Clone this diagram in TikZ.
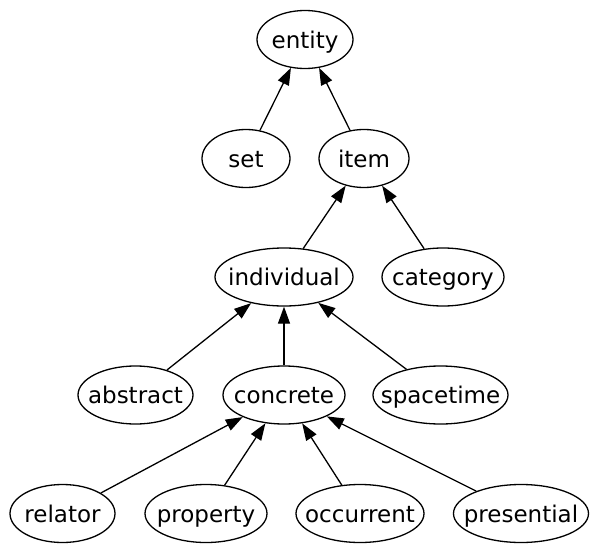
\documentclass[tikz,border=0pt]{standalone}
\usepackage{fontspec}
\setmainfont{DejaVu Sans}
\usetikzlibrary{shapes.geometric,arrows.meta}
\newcommand\nlab[1]{\makebox[0pt]{#1}}
\begin{document}
\begin{tikzpicture}[x=1pt,y=-1pt,
  nd/.style={draw,ellipse,line width=1.3pt,minimum height=58pt,inner sep=0pt,text height=20pt,text depth=3pt,font=\fontsize{23}{26}\selectfont},
  isa/.style={line width=1.3pt,-{Triangle[length=17pt,width=12pt]}}]
\useasboundingbox (0,0) rectangle (600,554);
\node[nd,minimum width=96pt] (entity) at (305,39.5) {\nlab{entity}};
\node[nd,minimum width=88pt] (set) at (246,158.5) {\nlab{set}};
\node[nd,minimum width=90pt] (item) at (364,158.5) {\nlab{item}};
\node[nd,minimum width=138pt] (individual) at (284,277) {\nlab{individual}};
\node[nd,minimum width=122pt] (category) at (443,277) {\nlab{category}};
\node[nd,minimum width=115pt] (abstract) at (135.5,395) {\nlab{abstract}};
\node[nd,minimum width=122pt] (concrete) at (284,395) {\nlab{concrete}};
\node[nd,minimum width=135pt] (spacetime) at (440.5,395) {\nlab{spacetime}};
\node[nd,minimum width=105pt] (relator) at (62.5,513.5) {\nlab{relator}};
\node[nd,minimum width=122pt] (property) at (206,513.5) {\nlab{property}};
\node[nd,minimum width=128pt] (occurrent) at (360,513.5) {\nlab{occurrent}};
\node[nd,minimum width=135pt] (presential) at (521,513.5) {\nlab{presential}};
\draw[isa] (set) -- (entity);
\draw[isa] (item) -- (entity);
\draw[isa] (individual) -- (item);
\draw[isa] (category) -- (item);
\draw[isa] (abstract) -- (individual);
\draw[isa] (concrete) -- (individual);
\draw[isa] (spacetime) -- (individual);
\draw[isa] (relator) -- (concrete);
\draw[isa] (property) -- (concrete);
\draw[isa] (occurrent) -- (concrete);
\draw[isa] (presential) -- (concrete);
\end{tikzpicture}
\end{document}
